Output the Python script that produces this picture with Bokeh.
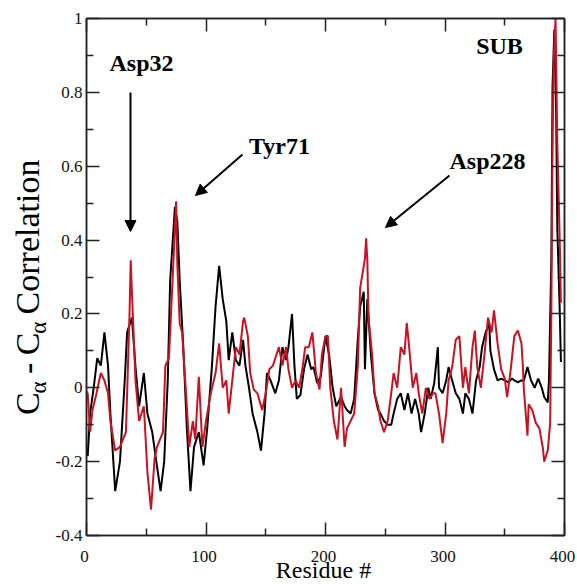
import numpy as np
from bokeh.plotting import figure
from bokeh.layouts import row, column
from bokeh.models import (Range1d, LinearAxis, FixedTicker, CustomJSTickFormatter,
                          Label, Arrow, NormalHead)
from bokeh.embed import file_html
from bokeh.resources import INLINE
from bokeh.core.properties import value

# ---------------- data ----------------
black_res = [1, 3, 6, 9, 12, 15, 18, 20, 24, 28, 32, 34, 38, 41, 44, 48, 51, 55, 58, 62,
             65, 68, 70, 74, 76, 78, 81, 84, 87, 90, 94, 98, 101, 105, 108, 111, 114, 117,
             119, 122, 125, 128, 131, 133, 136, 139, 143, 146, 149, 151, 154, 158, 161,
             164, 167, 169, 172, 174, 176, 179, 182, 185, 188, 190, 193, 196, 200, 203,
             206, 209, 213, 216, 218, 221, 224, 227, 229, 232, 233, 235, 238, 241, 244,
             246, 249, 252, 255, 257, 260, 263, 266, 269, 272, 275, 278, 280, 283, 286,
             288, 291, 294, 295, 298, 301, 303, 306, 309, 312, 315, 317, 320, 323, 326,
             329, 331, 334, 337, 338, 341, 344, 347, 350, 353, 356, 358, 361, 364, 366,
             369, 372, 375, 378, 381, 383, 386, 387, 389, 390, 391.5, 393, 394, 396, 397]
black_val = [-0.185, -0.07, 0.0, 0.08, 0.06, 0.15, 0.06, -0.07, -0.28, -0.2, 0.02, 0.15,
             0.19, 0.056, -0.05, 0.04, -0.07, -0.12, -0.19, -0.28, -0.2, 0.02, 0.29, 0.49,
             0.45, 0.29, 0.11, -0.11, -0.28, -0.16, -0.12, -0.21, -0.11, 0.06, 0.22, 0.33,
             0.24, 0.18, 0.075, 0.15, 0.075, 0.06, 0.13, 0.06, 0.0, -0.07, -0.12, -0.17,
             -0.07, 0.04, 0.02, -0.015, 0.02, 0.11, 0.075, 0.11, 0.2, 0.06, -0.03, -0.02,
             0.05, 0.09, 0.05, 0.056, 0.013, 0.03, 0.14, 0.09, 0.0, -0.05, -0.025, -0.05,
             -0.06, -0.07, -0.03, 0.13, 0.22, 0.26, 0.05, 0.24, 0.09, -0.015, -0.06, -0.07,
             -0.09, -0.1, -0.1, -0.07, -0.03, -0.015, -0.06, -0.015, -0.07, -0.03, -0.07,
             -0.12, -0.07, 0.0, -0.03, 0.013, 0.11, 0.0, -0.015, 0.02, 0.056, 0.02, -0.015,
             -0.03, -0.07, -0.015, -0.03, -0.07, 0.02, 0.056, 0.11, 0.15, 0.175, 0.1, 0.05,
             0.02, 0.025, 0.02, 0.015, 0.025, 0.02, 0.015, 0.02, 0.02, 0.056, 0.02, 0.0,
             0.025, 0.0, -0.025, -0.04, 0.02, 0.35, 0.82, 0.97, 0.75, 0.43, 0.21, 0.07]

red_res = [0, 1, 3, 5, 8, 12, 15, 18, 20, 24, 28, 33, 36, 37, 38, 41, 44, 48, 51, 54, 57,
           59, 64, 66, 69, 72, 75, 76, 78, 80, 83, 86, 89, 91, 94, 97, 100, 104, 108, 111,
           114, 117, 119, 122, 125, 128, 131, 132, 135, 137, 140, 143, 147, 150, 153, 156,
           158, 161, 164, 167, 169, 172, 175, 178, 181, 183, 186, 189, 192, 195, 197, 200,
           202, 204, 207, 210, 213, 216, 218, 221, 224, 227, 229, 233, 234, 235, 236, 239,
           241, 244, 246, 249, 252, 255, 257, 260, 263, 266, 268, 270, 273, 276, 278, 281,
           284, 287, 290, 292, 295, 298, 301, 303, 306, 309, 312, 315, 317, 320, 323, 325,
           327, 330, 333, 336, 339, 341, 344, 347, 350, 352, 355, 358, 361, 364, 365, 366,
           369, 370, 373, 376, 379, 382, 383, 386, 388, 389, 390, 391, 392.5, 394, 396, 397]
red_val = [-0.01, -0.015, -0.12, -0.06, -0.02, 0.04, 0.02, -0.015, -0.09, -0.17, -0.16,
           -0.12, 0.2, 0.345, 0.26, 0.02, -0.09, -0.05, -0.23, -0.33, -0.19, -0.16, -0.12,
           0.06, 0.08, 0.29, 0.505, 0.335, 0.175, 0.15, 0.0, -0.16, -0.09, -0.14, 0.03,
           -0.16, -0.09, -0.015, 0.04, 0.12, 0.0, 0.02, -0.07, 0.02, 0.11, 0.09, 0.18, 0.19,
           0.14, 0.04, -0.005, -0.015, -0.06, -0.015, 0.05, 0.06, 0.08, 0.11, 0.06, 0.11,
           0.05, 0.0, 0.02, 0.0, 0.06, 0.11, 0.11, 0.15, 0.04, -0.005, 0.09, 0.14, 0.14, 0.0,
           -0.09, -0.14, 0.0, -0.16, -0.11, -0.09, -0.07, 0.056, 0.27, 0.35, 0.405, 0.345,
           0.19, 0.09, -0.015, -0.05, -0.09, -0.12, -0.09, -0.015, 0.04, 0.0, 0.11, 0.09,
           0.175, 0.11, 0.0, 0.04, -0.015, -0.07, 0.0, -0.03, -0.015, -0.015, -0.07, -0.15,
           -0.07, 0.02, 0.056, 0.13, 0.14, 0.0, 0.056, -0.015, 0.11, 0.155, 0.056, 0.0, 0.09,
           0.19, 0.15, 0.21, 0.12, 0.05, 0.025, -0.025, 0.05, 0.14, 0.155, 0.12, 0.067,
           -0.005, -0.13, -0.045, -0.06, -0.095, -0.11, -0.165, -0.2, -0.17, -0.095, 0.21,
           0.66, 0.89, 1.0, 0.66, 0.4, 0.23]

x_major = [0, 100, 200, 300, 400]
x_minor = [50, 150, 250, 350]
y_major = [-0.4, -0.2, 0.0, 0.2, 0.4, 0.6, 0.8, 1.0]
y_minor = [-0.3, -0.1, 0.1, 0.3, 0.5, 0.7, 0.9]
x_tick_labels = ["0", "100", "200", "300", "400"]

x_label = "Residue #"
y_label_main = ["C", "-", "C", "Correlation"]
y_label_sub = ["\u03b1", "\u03b1"]
annotations = ["Asp32", "Tyr71", "Asp228", "SUB"]

# ---------------- layout (pixel positions in the picture) ----------------
TOTAL_W = 569
XLAB_W = 577
PAGE_H = 584
FL, FR, FT, FB = 84, 562, 18, 535     # frame edges
YLAB_W = 52
BOTTOM = 10
MAIN_H = FB + BOTTOM
XLAB_H = PAGE_H - MAIN_H

def dx(rx):
    return (rx - FL) * 400.0 / (FR - FL)

def dy(ry):
    return -0.4 + (FB - ry) * 1.4 / (FB - FT)

SERIF = "Liberation Serif"
INK = "#222222"
TICK_FONT = "17px"

# ---------------- main plot ----------------
p = figure(frame_width=FR - FL, frame_height=FB - FT, output_backend="svg",
           toolbar_location=None, x_range=Range1d(0, 400), y_range=Range1d(-0.4, 1.0),
           title=None, min_border_left=FL - YLAB_W, min_border_right=TOTAL_W - FR,
           min_border_top=FT, min_border_bottom=BOTTOM)
p.grid.visible = False
p.outline_line_color = INK
p.outline_line_width = 1.5
p.background_fill_color = "white"
p.border_fill_color = "white"

fmt = CustomJSTickFormatter(code="return String(Math.round(tick*10)/10);")

def style_axis(ax, ticks, minor, labels=True):
    ax.ticker = FixedTicker(ticks=ticks, minor_ticks=minor)
    ax.major_tick_in = 13
    ax.major_tick_out = 0
    ax.minor_tick_in = 7
    ax.minor_tick_out = 0
    ax.axis_line_color = INK
    ax.axis_line_width = 1.5
    ax.major_tick_line_color = INK
    ax.major_tick_line_width = 1.5
    ax.minor_tick_line_color = INK
    ax.minor_tick_line_width = 1.5
    if labels:
        ax.formatter = fmt
        ax.major_label_text_font = SERIF
        ax.major_label_text_font_size = TICK_FONT
        ax.major_label_text_color = "#111111"
    else:
        ax.major_label_text_font_size = "1px"
        ax.major_label_text_color = None
        ax.major_label_standoff = 0

style_axis(p.xaxis[0], x_major, x_minor, labels=False)
style_axis(p.yaxis[0], y_major, y_minor)
p.yaxis[0].major_label_standoff = 4

top = LinearAxis()
style_axis(top, x_major, x_minor, labels=False)
p.add_layout(top, "above")
right = LinearAxis()
style_axis(right, y_major, y_minor, labels=False)
p.add_layout(right, "right")

p.line(black_res, black_val, line_color="black", line_width=2)
p.line(red_res, red_val, line_color="#cc1122", line_width=2)

head = lambda: NormalHead(size=11, fill_color="black", line_color="black")
for (x0, y0, x1, y1) in [(128, 92, 128, 231), (240, 154, 193, 195), (447, 175, 383, 227)]:
    p.add_layout(Arrow(end=head(), x_start=dx(x0), y_start=dy(y0), x_end=dx(x1),
                       y_end=dy(y1), line_width=2, line_color="black"))

for txt, (rx, ry) in zip(annotations, [(139, 62), (277, 145), (485, 160), (497, 45)]):
    p.add_layout(Label(x=dx(rx), y=dy(ry), text=txt, text_font=SERIF,
                       text_font_style="bold", text_font_size="24px",
                       text_align="center", text_baseline="middle", text_color="black"))

# ---------------- y-axis title (its own strip) ----------------
ylab = figure(width=YLAB_W, height=MAIN_H, output_backend="svg", toolbar_location=None,
              x_range=Range1d(0, YLAB_W), y_range=Range1d(0, MAIN_H), title=None,
              x_axis_location=None, y_axis_location=None, min_border=0)
ylab.grid.visible = False
ylab.outline_line_color = None
F, FS = 34, 23
w_C, w_sub, w_sp, w_dash = 0.667 * F, 0.52 * FS, 0.25 * F, 0.333 * F
pos = 418.0                              # picture y where the label starts (bottom)
main_y, sub_y = [], []
main_y.append(MAIN_H - pos); pos -= w_C          # C
sub_y.append(MAIN_H - pos);  pos -= w_sub + w_sp  # alpha
main_y.append(MAIN_H - pos); pos -= w_dash + w_sp # -
main_y.append(MAIN_H - pos); pos -= w_C          # C
sub_y.append(MAIN_H - pos);  pos -= w_sub + w_sp  # alpha
main_y.append(MAIN_H - pos)                       # Correlation
ylab.text(x=[27] * 4, y=main_y, text=y_label_main, angle=np.pi / 2,
          text_font=value(SERIF), text_font_size=f"{F}px", text_align="left",
          text_baseline="middle", text_color="black")
ylab.text(x=[38] * 2, y=sub_y, text=y_label_sub, angle=np.pi / 2,
          text_font=value(SERIF), text_font_size=f"{FS}px", text_align="left",
          text_baseline="middle", text_color="black")

# ---------------- x tick labels + x-axis title (its own strip) ----------------
xlab = figure(width=XLAB_W, height=XLAB_H, output_backend="svg", toolbar_location=None,
              x_range=Range1d(dx(0), dx(XLAB_W)), y_range=Range1d(0, XLAB_H), title=None,
              x_axis_location=None, y_axis_location=None, min_border=0)
xlab.grid.visible = False
xlab.outline_line_color = None
xlab.text(x=x_major, y=[PAGE_H - 555.5] * len(x_major), text=x_tick_labels,
          text_font=value(SERIF), text_font_size=TICK_FONT, text_align="center",
          text_baseline="middle", text_color="#111111")
xlab.text(x=[200], y=[PAGE_H - 569.5], text=[x_label], text_font=value(SERIF),
          text_font_size="24px", text_align="center", text_baseline="middle",
          text_color="black")

layout = column(row(ylab, p), xlab)
open("out.html", "w").write(file_html(layout, INLINE))
